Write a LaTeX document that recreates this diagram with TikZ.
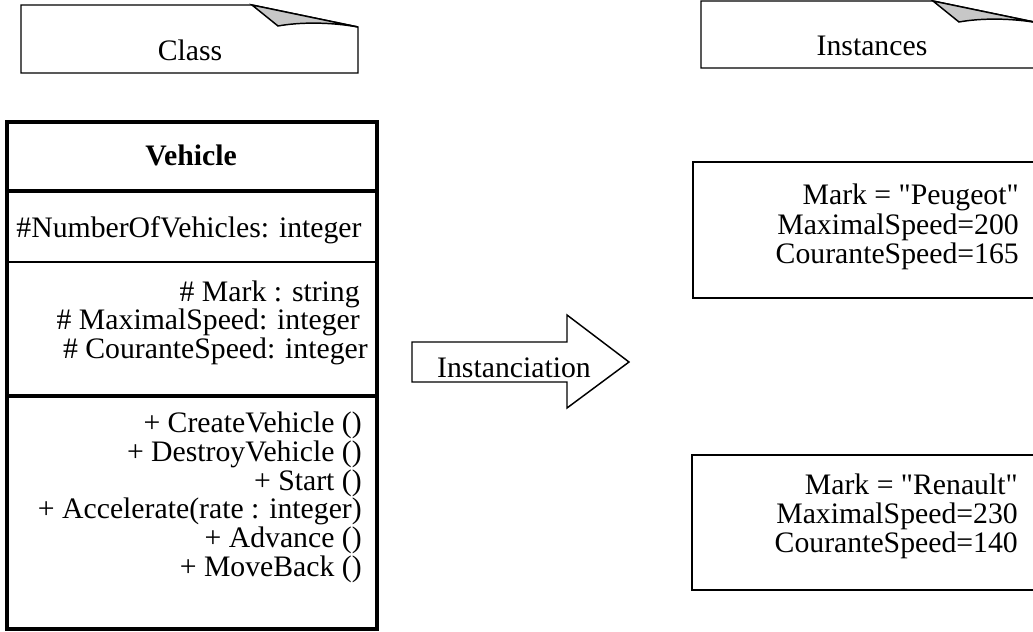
\documentclass[tikz,border=0pt]{standalone}
\usepackage{fontspec}
\setmainfont{Liberation Serif}
\usetikzlibrary{calc}

% straight double quote, without the TeX ligature mapping
\font\quotefont="Liberation Serif" at 22.3pt
\newcommand\dq{{\quotefont\char34}}

\tikzset{
  note/.style={line width=1.1pt,line join=miter},
  fold/.style={line width=1.1pt,fill=black!22},
  heavy/.style={line width=3pt},
  light/.style={line width=1.5pt},
  entry/.style={anchor=base east,inner sep=0pt},
  title/.style={anchor=base,inner sep=0pt},
}

\begin{document}
\begin{tikzpicture}[x=0.75pt,y=-0.75pt,font=\fontsize{22.3}{26}\selectfont]
\useasboundingbox (0,0) rectangle (1033,632);

% notes
\draw[note] (21,5) -- (252,5) -- (358,27) -- (358,73) -- (21,73) -- cycle;
\draw[fold] (252,5) -- (278,26) .. controls (300,22) and (330,22) .. (358,27) -- cycle;
\node[title] (classnote) at (190,60) {Class};

\draw[note] (701,1) -- (933,1) -- (1039,23) -- (1039,68) -- (701,68) -- cycle;
\draw[fold] (933,1) -- (959,22) .. controls (981,18) and (1011,18) .. (1039,23) -- cycle;
\node[title] (instnote) at (872,55) {Instances};

% class box
\draw[heavy] (7,122) rectangle (377,629);
\draw[heavy] (7,191) -- (377,191);
\draw[light] (7,262) -- (377,262);
\draw[heavy] (7,396) -- (377,396);
\node[title,font=\fontsize{22.3}{26}\selectfont\bfseries] (name) at (191,165) {Vehicle};
\node[title] (static) at (189,237) {\#NumberOfVehicles: integer};
\foreach \y/\x/\t [count=\i] in {301/360/{\# Mark : string},
    329.5/360/{\# MaximalSpeed: integer},
    358/368/{\# CouranteSpeed: integer}}
  \node[entry] (attr\i) at (\x,\y) {\t};
\foreach \y/\t [count=\i] in {432/{+ CreateVehicle ()},
    461/{+ DestroyVehicle ()},
    490/{+ Start ()},
    518/{+ Accelerate(rate : integer)},
    547/{+ Advance ()},
    576/{+ MoveBack ()}}
  \node[entry] (meth\i) at (362,\y) {\t};

% instanciation arrow
\draw[note] (412,342) -- (567,342) -- (567,315) -- (629,362) -- (567,408)
  -- (567,382) -- (412,382) -- cycle;
\node[title] (inst) at (514,377) {Instanciation};

% instances
\draw[note] (693,162) rectangle (1045,298);
\foreach \y/\t [count=\i] in {204/{Mark = \dq Peugeot\dq},
    234/{MaximalSpeed=200},
    263/{CouranteSpeed=165}}
  \node[entry] (peugeot\i) at (1019,\y) {\t};

\draw[note] (692,455) rectangle (1045,590);
\foreach \y/\t [count=\i] in {494/{Mark = \dq Renault\dq},
    523/{MaximalSpeed=230},
    552/{CouranteSpeed=140}}
  \node[entry] (renault\i) at (1018,\y) {\t};

\end{tikzpicture}
\end{document}
